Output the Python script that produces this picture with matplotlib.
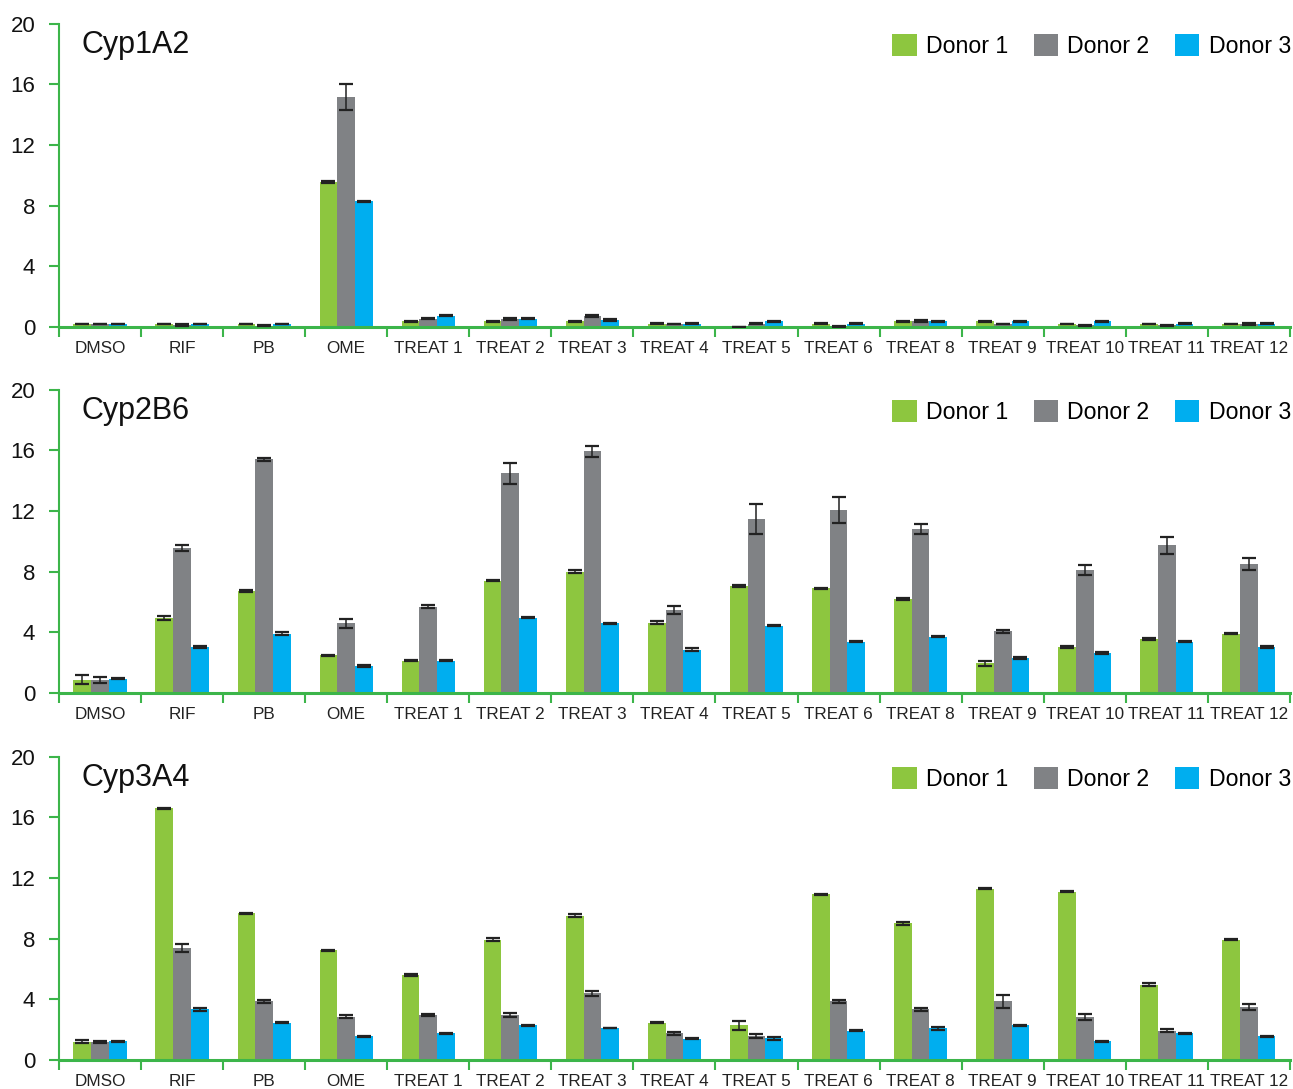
import numpy as np
import matplotlib.pyplot as plt
from matplotlib.patches import Patch

plt.rcParams["font.family"] = ["Liberation Sans", "DejaVu Sans"]

treatments = ["DMSO", "RIF", "PB", "OME", "TREAT 1", "TREAT 2", "TREAT 3", "TREAT 4",
              "TREAT 5", "TREAT 6", "TREAT 8", "TREAT 9", "TREAT 10", "TREAT 11", "TREAT 12"]
donors = ["Donor 1", "Donor 2", "Donor 3"]

# fold induction per donor, one list per enzyme
cyp1a2_d1 = [0.2, 0.2, 0.2, 9.55, 0.38, 0.38, 0.38, 0.22, 0.0, 0.22, 0.38, 0.38, 0.2, 0.2, 0.2]
cyp1a2_d2 = [0.2, 0.15, 0.1, 15.15, 0.55, 0.55, 0.72, 0.2, 0.22, 0.05, 0.38, 0.2, 0.12, 0.12, 0.2]
cyp1a2_d3 = [0.2, 0.2, 0.2, 8.3, 0.75, 0.55, 0.45, 0.22, 0.38, 0.22, 0.38, 0.38, 0.38, 0.22, 0.22]
cyp1a2_e1 = [0.03, 0.03, 0.03, 0.05, 0.03, 0.03, 0.03, 0.03, 0.0, 0.03, 0.03, 0.03, 0.03, 0.03, 0.03]
cyp1a2_e2 = [0.03, 0.06, 0.03, 0.85, 0.03, 0.06, 0.06, 0.03, 0.03, 0.03, 0.06, 0.03, 0.03, 0.03, 0.06]
cyp1a2_e3 = [0.03, 0.03, 0.03, 0.03, 0.03, 0.03, 0.08, 0.03, 0.03, 0.03, 0.03, 0.03, 0.03, 0.03, 0.03]

cyp2b6_d1 = [0.88, 4.96, 6.74, 2.49, 2.14, 7.42, 8.0, 4.63, 7.07, 6.9, 6.21, 1.96, 3.04, 3.57, 3.92]
cyp2b6_d2 = [0.88, 9.56, 15.42, 4.6, 5.68, 14.49, 15.93, 5.48, 11.5, 12.05, 10.79, 4.07, 8.13, 9.74, 8.5]
cyp2b6_d3 = [0.95, 3.04, 3.92, 1.8, 2.14, 4.98, 4.6, 2.86, 4.45, 3.39, 3.72, 2.31, 2.64, 3.39, 3.04]
cyp2b6_e1 = [0.3, 0.15, 0.08, 0.05, 0.05, 0.05, 0.1, 0.1, 0.05, 0.03, 0.06, 0.18, 0.04, 0.05, 0.05]
cyp2b6_e2 = [0.2, 0.2, 0.1, 0.28, 0.1, 0.68, 0.35, 0.27, 0.98, 0.86, 0.33, 0.1, 0.33, 0.54, 0.4]
cyp2b6_e3 = [0.05, 0.05, 0.1, 0.07, 0.05, 0.05, 0.05, 0.1, 0.05, 0.05, 0.05, 0.05, 0.05, 0.05, 0.05]

cyp3a4_d1 = [1.21, 16.59, 9.69, 7.23, 5.6, 7.93, 9.52, 2.46, 2.29, 10.92, 9.01, 11.3, 11.1, 4.95, 7.93]
cyp3a4_d2 = [1.21, 7.38, 3.89, 2.86, 2.97, 2.97, 4.4, 1.76, 1.58, 3.87, 3.34, 3.87, 2.81, 1.93, 3.52]
cyp3a4_d3 = [1.23, 3.34, 2.46, 1.58, 1.76, 2.29, 2.11, 1.41, 1.43, 1.93, 2.11, 2.29, 1.25, 1.76, 1.58]
cyp3a4_e1 = [0.08, 0.04, 0.03, 0.03, 0.07, 0.1, 0.08, 0.03, 0.28, 0.03, 0.1, 0.03, 0.03, 0.1, 0.03]
cyp3a4_e2 = [0.06, 0.27, 0.1, 0.12, 0.08, 0.1, 0.15, 0.1, 0.12, 0.1, 0.1, 0.45, 0.2, 0.1, 0.2]
cyp3a4_e3 = [0.05, 0.1, 0.03, 0.03, 0.03, 0.03, 0.03, 0.03, 0.1, 0.03, 0.1, 0.05, 0.03, 0.03, 0.03]

panels = [
    ("Cyp1A2", [cyp1a2_d1, cyp1a2_d2, cyp1a2_d3], [cyp1a2_e1, cyp1a2_e2, cyp1a2_e3]),
    ("Cyp2B6", [cyp2b6_d1, cyp2b6_d2, cyp2b6_d3], [cyp2b6_e1, cyp2b6_e2, cyp2b6_e3]),
    ("Cyp3A4", [cyp3a4_d1, cyp3a4_d2, cyp3a4_d3], [cyp3a4_e1, cyp3a4_e2, cyp3a4_e3]),
]

colors = ["#8dc63f", "#808285", "#00aeef"]
axis_green = "#3cb54a"

fig = plt.figure(figsize=(12.93, 10.89), dpi=100)
boxes = [0.6997, 0.3636, 0.0266]
height = 0.2785

x = np.arange(len(treatments))
w = 0.216

for (name, vals, errs), bottom in zip(panels, boxes):
    ax = fig.add_axes([0.0456, bottom, 0.952, height])
    for i in range(3):
        ax.bar(x + (i - 1) * w, vals[i], width=w, color=colors[i], linewidth=0, zorder=2)
        ax.errorbar(x + (i - 1) * w, vals[i], yerr=errs[i], fmt="none", ecolor="#222222",
                    elinewidth=1.1, capsize=5, capthick=1.6, zorder=3)

    ax.set_xlim(-0.5, len(treatments) - 0.5)
    ax.set_ylim(0, 20)
    ax.set_yticks(np.arange(0, 21, 4))
    ax.set_xticks(x)
    ax.set_xticklabels(treatments, fontsize=12.3, color="#222222")
    ax.set_xticks(np.arange(-0.5, len(treatments), 1), minor=True)
    ax.tick_params(axis="x", which="major", length=0, pad=10)
    ax.tick_params(axis="x", which="minor", length=7, width=1.5, color=axis_green)
    ax.tick_params(axis="y", length=7, width=1.5, color=axis_green, labelsize=16,
                   labelcolor="#111111", pad=10)

    for s in ["top", "right"]:
        ax.spines[s].set_visible(False)
    ax.spines["left"].set_color(axis_green)
    ax.spines["left"].set_linewidth(1.5)
    ax.spines["bottom"].set_color(axis_green)
    ax.spines["bottom"].set_linewidth(2.2)

    ax.text(0.018, 0.98, name, transform=ax.transAxes, va="top", ha="left",
            fontsize=22, color="#111111")

    handles = [Patch(facecolor=c, label=d) for c, d in zip(colors, donors)]
    ax.legend(handles=handles, ncol=3, loc="upper right", bbox_to_anchor=(1.012, 1.012),
              frameon=False, handlelength=1.05, handleheight=1.05, handletextpad=0.4,
              columnspacing=1.1, borderaxespad=0.2, prop={"size": 16.7})

fig.savefig("out.png", dpi=100)
